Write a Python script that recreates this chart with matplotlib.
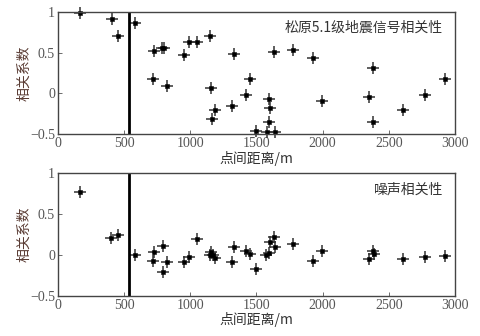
import matplotlib
matplotlib.use("Agg")
import matplotlib.pyplot as plt
import numpy as np

# 松原5.1级地震信号相关性
quake_x = [170, 410, 455, 586, 725, 717, 785, 800, 823, 951, 989, 1052,
           1150, 1155, 1185, 1168, 1329, 1316, 1420, 1452, 1633, 1779, 1924,
           1596, 1600, 1594, 1495, 1577, 1642, 1996, 2382, 2354, 2382, 2606,
           2777, 2923]
quake_y = [0.99, 0.92, 0.705, 0.86, 0.525, 0.174, 0.56, 0.56, 0.092, 0.476,
           0.632, 0.632, 0.705, 0.065, -0.206, -0.32, 0.49, -0.15, -0.015,
           0.174, 0.513, 0.537, 0.435, -0.068, -0.174, -0.352, -0.466, -0.48,
           -0.472, -0.093, 0.309, -0.047, -0.354, -0.206, -0.018, 0.174]

# 噪声相关性
noise_x = [171, 405, 455, 586, 725, 720, 795, 795, 825, 951, 992, 1052,
           1150, 1160, 1175, 1190, 1316, 1331, 1420, 1455, 1498, 1575, 1592,
           1600, 1634, 1642, 1780, 1926, 1996, 2354, 2382, 2387, 2606, 2777,
           2923]
noise_y = [0.77, 0.209, 0.245, 0.0, 0.037, -0.07, 0.11, -0.209, -0.09,
           -0.09, -0.027, 0.203, 0.0, 0.04, 0.0, -0.04, -0.09, 0.098, 0.05,
           0.012, -0.168, -0.004, 0.028, 0.162, 0.217, 0.1, 0.135, -0.077,
           0.049, -0.053, 0.053, 0.02, -0.053, -0.02, -0.012]

split_x = 540
xticks = [0, 500, 1000, 1500, 2000, 2500, 3000]
yticks = [-0.5, 0, 0.5, 1]
ytick_labels = ["\u22120.5", "0", "0.5", "1"]

cjk = ["Noto Sans CJK SC", "DejaVu Sans"]
num_font = "Liberation Serif"
txt_col = "#333333"
lab_col = "#5a3c34"

fig = plt.figure(figsize=(4.81, 3.36), dpi=100)
ax1 = fig.add_axes([0.12, 0.601, 0.826, 0.363])
ax2 = fig.add_axes([0.12, 0.119, 0.826, 0.365])

panels = [(ax1, quake_x, quake_y, "松原5.1级地震信号相关性"),
          (ax2, noise_x, noise_y, "噪声相关性")]

for ax, xs, ys, title in panels:
    # plus with a dark blob in the middle, like the original markers
    ax.plot(xs, ys, linestyle="none", marker="+", markersize=9,
            color="#333333", markeredgewidth=1.1, clip_on=False)
    ax.plot(xs, ys, linestyle="none", marker=(4, 1, 45), markersize=5,
            color="black", markeredgewidth=0, clip_on=False)
    ax.plot(xs, ys, linestyle="none", marker="o", markersize=3.2,
            color="black", markeredgewidth=0, clip_on=False)
    ax.axvline(split_x, color="black", linewidth=2)
    ax.set_xlim(0, 3000)
    ax.set_ylim(-0.5, 1)
    ax.set_xticks(xticks)
    ax.set_xticklabels([str(t) for t in xticks], fontfamily=num_font,
                       fontsize=10, color=txt_col)
    ax.set_yticks(yticks)
    ax.set_yticklabels(ytick_labels, fontfamily=num_font, fontsize=10,
                       color=txt_col)
    ax.tick_params(direction="in", length=3, width=0.6, pad=2,
                   colors="#555555")
    for s in ax.spines.values():
        s.set_linewidth(1.0)
        s.set_color("#444444")
    ax.set_xlabel("点间距离/m", family=cjk, fontsize=10, color=txt_col,
                  labelpad=0.5)
    ax.set_ylabel("相关系数", family=cjk, fontsize=10, color=lab_col,
                  labelpad=-1)
    ax.text(0.97, 0.87, title, transform=ax.transAxes, ha="right",
            va="center", family=cjk, fontsize=10, color=txt_col)

fig.savefig("out.png", dpi=100)
